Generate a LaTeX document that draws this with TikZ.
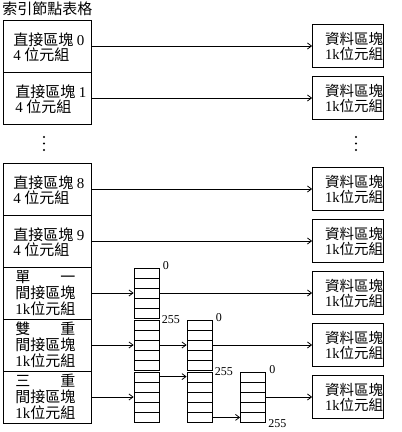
\documentclass[tikz,border=0pt]{standalone}
\usepackage{fontspec}
\setmainfont{Liberation Serif}
\newfontfamily\cjk{Noto Sans CJK TC}
\usetikzlibrary{arrows.meta}
\begin{document}
\begin{tikzpicture}[x=1pt,y=-1pt, line width=0.8pt,
  cell/.style={draw, rectangle, minimum width=88pt, minimum height=52pt, inner sep=0pt},
  txt/.style={anchor=west, align=left, inner sep=0pt, font=\cjk\fontsize{15}{15}\selectfont},
  txtthree/.style={txt, font=\cjk\fontsize{15}{16}\selectfont},
  dbox/.style={draw, rectangle, minimum width=71pt, minimum height=43pt, inner sep=0pt},
  dtxt/.style={align=center, inner sep=0pt, font=\cjk\fontsize{14.5}{15}\selectfont},
  idx/.style={draw, rectangle, minimum width=25pt, minimum height=50pt, inner sep=0pt,
    path picture={\foreach \k in {1,2,3,4}{\draw[line width=0.8pt]
      ([yshift=-\k*10pt]path picture bounding box.north west) --
      ([yshift=-\k*10pt]path picture bounding box.north east);}}},
  arr/.style={-{Straight Barb[length=4pt,width=6pt]}},
  num/.style={font=\fontsize{12}{12}\selectfont, inner sep=0pt, anchor=west},
  dotmark/.style={fill, circle, inner sep=0pt, minimum size=2.4pt}]
\useasboundingbox (0,0) rectangle (402,432);

% title
\node[txt] (title) at (2,9) {索引節點表格};

% index node table rows
\node[cell] (r0) at (47,46) {};
\node[cell] (r1) at (47,98) {};
\node[cell] (r8) at (47,189) {};
\node[cell] (r9) at (47,241) {};
\node[cell] (rs) at (47,293) {};
\node[cell] (rd) at (47,345) {};
\node[cell] (rt) at (47,397) {};

\node[txt] (t0) at (13,47) {直接區塊 {\rmfamily 0}\\{\rmfamily 4} 位元組};
\node[txt] (t1) at (15,99) {直接區塊 {\rmfamily 1}\\{\rmfamily 4} 位元組};
\node[txt] (t8) at (13,190) {直接區塊 {\rmfamily 8}\\{\rmfamily 4} 位元組};
\node[txt] (t9) at (13,242) {直接區塊 {\rmfamily 9}\\{\rmfamily 4} 位元組};
\node[txtthree] (ts) at (15,293) {單\hspace{30pt}一\\間接區塊\\{\rmfamily 1k}位元組};
\node[txtthree] (td) at (15,345) {雙\hspace{30pt}重\\間接區塊\\{\rmfamily 1k}位元組};
\node[txtthree] (tt) at (15,397) {三\hspace{30pt}重\\間接區塊\\{\rmfamily 1k}位元組};

% dots
\node[dotmark] (la) at (44,137) {};
\node[dotmark] (lb) at (44,143.5) {};
\node[dotmark] (lc) at (44,150) {};
\node[dotmark] (ra) at (356,137) {};
\node[dotmark] (rb) at (356,143.5) {};
\node[dotmark] (rc) at (356,150) {};

% data blocks
\foreach \nm/\yy in {d0/46, d1/98, d8/189, d9/241, ds/293, dd/345, dt/397}{
  \node[dbox] (\nm) at (348,\yy) {};
  \node[dtxt] (\nm t) at (354,\yy+0.5) {資料區塊\\{\rmfamily 1k}位元組};
}

% index blocks
\node[idx] (A1) at (146.5,293) {};
\node[idx] (A2) at (146.5,345) {};
\node[idx] (A3) at (146.5,397) {};
\node[idx] (B1) at (199.5,345) {};
\node[idx] (B2) at (199.5,397) {};
\node[idx] (C)  at (253,397) {};

% labels
\node[num] (A1z) at ([xshift=3pt,yshift=2pt]A1.north east) {0};
\node[num] (A1e) at ([xshift=2pt,yshift=-1pt]A1.south east) {255};
\node[num] (B1z) at ([xshift=3pt,yshift=2pt]B1.north east) {0};
\node[num] (B1e) at ([xshift=2pt,yshift=-1pt]B1.south east) {255};
\node[num] (Cz)  at ([xshift=3pt,yshift=2pt]C.north east) {0};
\node[num] (Ce)  at ([xshift=2pt,yshift=-1pt]C.south east) {255};

% connectors
\draw[arr] (r0.east) -- (d0.west);
\draw[arr] (r1.east) -- (d1.west);
\draw[arr] (r8.east) -- (d8.west);
\draw[arr] (r9.east) -- (d9.west);
\draw[arr] (rs.east) -- (A1.west);
\draw[arr] (rd.east) -- (A2.west);
\draw[arr] (rt.east) -- (A3.west);
\draw[arr] (A1.east) -- (ds.west);
\draw[arr] (A2.east) -- (B1.west);
\draw[arr] (B1.east) -- (dd.west);
\draw[arr] ([yshift=-5pt]A3.north east) -- ([yshift=-5pt]B2.north west);
\draw[arr] ([yshift=5pt]B2.south east) -- ([yshift=5pt]C.south west);
\draw[arr] (C.east) -- (dt.west);
\end{tikzpicture}
\end{document}
